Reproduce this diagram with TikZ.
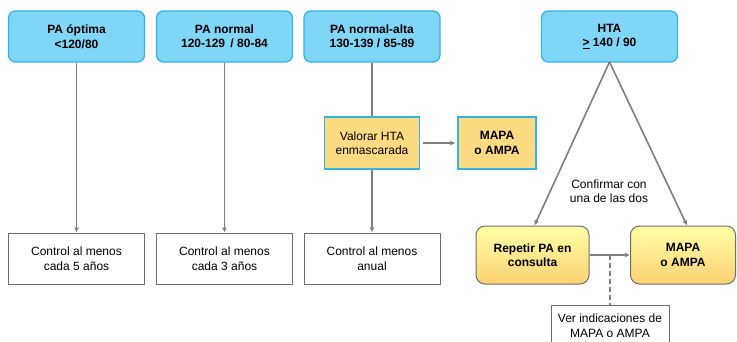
\documentclass[tikz,border=0pt]{standalone}
\usepackage{fontspec}
\setmainfont{Liberation Sans}
\usetikzlibrary{arrows.meta}
\definecolor{cyanfill}{HTML}{80D6F6}
\definecolor{cyanline}{HTML}{33B4E6}
\definecolor{yelfill}{HTML}{FCDA82}
\definecolor{arrgray}{HTML}{7F7F7F}
\definecolor{boxgray}{HTML}{6E6E6E}
\begin{document}
\begin{tikzpicture}[x=1pt,y=-1pt,
  every node/.style={font=\fontsize{12}{14.5}\selectfont, align=center, inner sep=0pt},
  topbox/.style={draw=cyanline, line width=1.3pt, fill=cyanfill, rounded corners=7pt, minimum width=136pt, minimum height=51pt, font=\fontsize{12}{14.5}\selectfont\bfseries},
  ctlbox/.style={draw=boxgray, line width=1pt, fill=white, minimum width=136pt, minimum height=51pt},
  midbox/.style={draw=cyanline, line width=1.3pt, fill=yelfill, minimum height=52pt},
  gradbox/.style={draw=boxgray, line width=1pt, rounded corners=9pt, top color=yellow!35!white, bottom color=yelfill!90!orange, minimum height=58pt, font=\fontsize{12}{14.5}\selectfont\bfseries},
  arr/.style={draw=arrgray, line width=1.6pt, -{Latex[length=5pt,width=5pt]}},
  ln/.style={draw=arrgray, line width=1.6pt}
]
\useasboundingbox (0,0) rectangle (737,341);
% top boxes
\node[topbox] (t1) at (76.5,36.5) {PA óptima\\<120/80};
\node[topbox] (t2) at (224.5,36.5) {PA normal\\120-129\, / 80-84};
\node[topbox] (t3) at (372,36.5) {PA normal-alta\\130-139 / 85-89};
\node[topbox] (t4) at (609.5,36.5) {HTA\\\underline{>} 140 / 90};
% bottom control boxes
\node[ctlbox] (b1) at (76.5,258.5) {Control al menos\\cada 5 años};
\node[ctlbox] (b2) at (224.5,258.5) {Control al menos\\cada 3 años};
\node[ctlbox] (b3) at (372,258.5) {Control al menos\\anual};
% middle boxes
\node[midbox, minimum width=95pt] (val) at (372,143) {Valorar HTA\\enmascarada};
\node[midbox, minimum width=78pt, font=\fontsize{12}{14.5}\selectfont\bfseries] (m1) at (497,143) {MAPA\\o AMPA};
% right side
\node[gradbox, minimum width=113pt] (rep) at (532.5,255) {Repetir PA en\\consulta};
\node[gradbox, minimum width=105pt] (m2) at (683,255) {MAPA\\o AMPA};
\node[draw=boxgray, line width=1pt, fill=white, minimum width=118pt, minimum height=40pt, anchor=north] (ver) at (610,305) {Ver indicaciones de\\MAPA o AMPA};
\node (conf) at (609,191) {Confirmar con\\una de las dos};
% connectors
\draw[arr] (t1.south) -- (b1.north);
\draw[arr] (t2.south) -- (b2.north);
\draw[ln] (t3.south) -- (val.north);
\draw[arr] (val.south) -- (b3.north);
\draw[arr] ([xshift=3pt]val.east) -- ([xshift=-2pt]m1.west);
\coordinate (apex) at (609.5,62);
\draw[arr] (apex) -- ([xshift=2pt]rep.north);
\draw[arr] (apex) -- ([xshift=4pt]m2.north);
\draw[arr] (rep.east) -- (m2.west);
\coordinate (dj) at (610,255);
\draw[draw=arrgray, line width=1.6pt, dash pattern=on 5pt off 3pt] (dj) -- (ver.north);
\end{tikzpicture}
\end{document}
